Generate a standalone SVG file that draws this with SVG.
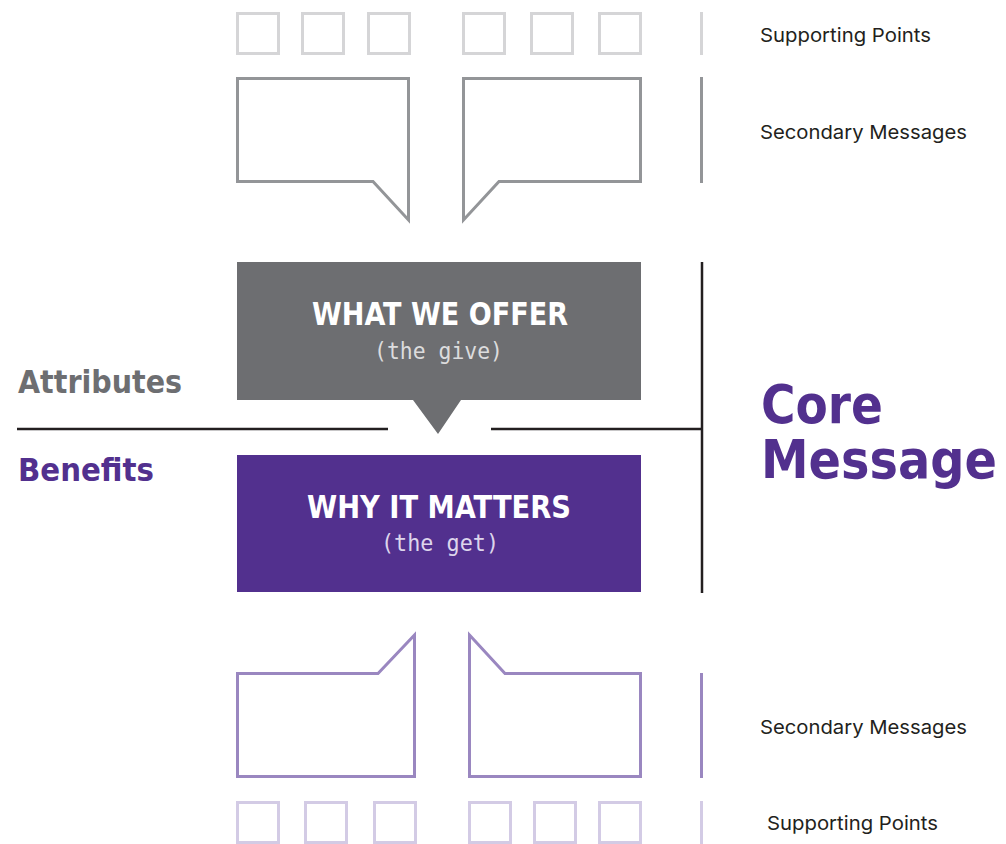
<svg xmlns="http://www.w3.org/2000/svg" width="1006" height="844" viewBox="0 0 1006 844">
  <style>
    .sq-top { fill: none; stroke: #d5d5d7; stroke-width: 3; }
    .sq-bot { fill: none; stroke: #d3cbe5; stroke-width: 3; }
    .bub-top { fill: none; stroke: #939598; stroke-width: 3; stroke-linejoin: miter; }
    .bub-bot { fill: none; stroke: #9a87c0; stroke-width: 3; stroke-linejoin: miter; }
    .rule { fill: none; stroke: #231f20; stroke-width: 2.5; }
    .head { font-family: "DejaVu Sans Condensed", "DejaVu Sans", sans-serif; font-weight: bold; font-size: 32px; fill: #ffffff; text-anchor: middle; }
    .sub { font-family: "DejaVu Sans Mono", "Liberation Mono", monospace; font-size: 23px; text-anchor: middle; }
    .side { font-family: "DejaVu Sans Condensed", "DejaVu Sans", sans-serif; font-weight: bold; font-size: 32px; }
    .core { font-family: "DejaVu Sans", sans-serif; font-weight: bold; font-size: 54px; fill: #52308e; }
    .label { font-family: Inter, "Liberation Sans", sans-serif; font-size: 19px; fill: #231f20; }
  </style>

  <!-- supporting points, top row -->
  <g id="supporting-top">
    <rect class="sq-top" x="237.5" y="13.5" width="41" height="40"/>
    <rect class="sq-top" x="302.5" y="13.5" width="41" height="40"/>
    <rect class="sq-top" x="368.5" y="13.5" width="41" height="40"/>
    <rect class="sq-top" x="463.5" y="13.5" width="41" height="40"/>
    <rect class="sq-top" x="531.5" y="13.5" width="41" height="40"/>
    <rect class="sq-top" x="599.5" y="13.5" width="41" height="40"/>
    <line x1="701.5" y1="12" x2="701.5" y2="55" stroke="#d5d5d7" stroke-width="3"/>
    <text class="label" x="760" y="42" textLength="171" lengthAdjust="spacingAndGlyphs">Supporting Points</text>
  </g>

  <!-- secondary messages, top -->
  <g id="secondary-top">
    <path class="bub-top" d="M237.5,78.5 H408.5 V220 L373,181.5 H237.5 Z"/>
    <path class="bub-top" d="M463.5,78.5 H640.5 V181.5 H499 L463.5,220 Z"/>
    <line x1="701.5" y1="77" x2="701.5" y2="183" stroke="#939598" stroke-width="3"/>
    <text class="label" x="760" y="139" textLength="207" lengthAdjust="spacingAndGlyphs">Secondary Messages</text>
  </g>

  <!-- core message: what we offer -->
  <g id="offer">
    <path d="M237,262 H641 V400 H461 L438,434 L413,400 H237 Z" fill="#6d6e71"/>
    <text class="head" x="440" y="325" textLength="256" lengthAdjust="spacingAndGlyphs">WHAT WE OFFER</text>
    <text class="sub" x="438.5" y="359" fill="#dcdcdd" textLength="129" lengthAdjust="spacingAndGlyphs">(the give)</text>
  </g>

  <!-- core message: why it matters -->
  <g id="matters">
    <rect x="237" y="455" width="404" height="137" fill="#52308e"/>
    <text class="head" x="439" y="518" textLength="264" lengthAdjust="spacingAndGlyphs">WHY IT MATTERS</text>
    <text class="sub" x="440" y="551" fill="#ddd5ec" textLength="118" lengthAdjust="spacingAndGlyphs">(the get)</text>
  </g>

  <!-- side labels -->
  <g id="attributes">
    <text class="side" x="18" y="393" fill="#6d6e71" textLength="164" lengthAdjust="spacingAndGlyphs">Attributes</text>
  </g>
  <g id="benefits">
    <text class="side" x="18" y="481" fill="#52308e" textLength="136" lengthAdjust="spacingAndGlyphs">Benefits</text>
  </g>
  <g id="core">
    <text class="core" x="761" y="423" textLength="122" lengthAdjust="spacingAndGlyphs">Core</text>
    <text class="core" x="761" y="478" textLength="236" lengthAdjust="spacingAndGlyphs">Message</text>
  </g>

  <!-- dividing rules -->
  <g id="connectors">
    <line class="rule" x1="17" y1="429" x2="388" y2="429"/>
    <line class="rule" x1="491" y1="429" x2="702" y2="429"/>
    <line class="rule" x1="702" y1="262" x2="702" y2="593"/>
  </g>

  <!-- secondary messages, bottom -->
  <g id="secondary-bottom">
    <path class="bub-bot" d="M237.5,673.5 H378 L414.5,635 V776.5 H237.5 Z"/>
    <path class="bub-bot" d="M469.5,635 L505,673.5 H640.5 V776.5 H469.5 Z"/>
    <line x1="701.5" y1="673" x2="701.5" y2="778" stroke="#9a87c0" stroke-width="3"/>
    <text class="label" x="760" y="734" textLength="207" lengthAdjust="spacingAndGlyphs">Secondary Messages</text>
  </g>

  <!-- supporting points, bottom row -->
  <g id="supporting-bottom">
    <rect class="sq-bot" x="237.5" y="802.5" width="41" height="40"/>
    <rect class="sq-bot" x="305.5" y="802.5" width="41" height="40"/>
    <rect class="sq-bot" x="374.5" y="802.5" width="41" height="40"/>
    <rect class="sq-bot" x="469.5" y="802.5" width="41" height="40"/>
    <rect class="sq-bot" x="534.5" y="802.5" width="41" height="40"/>
    <rect class="sq-bot" x="599.5" y="802.5" width="41" height="40"/>
    <line x1="701.5" y1="801" x2="701.5" y2="844" stroke="#d3cbe5" stroke-width="3"/>
    <text class="label" x="767" y="830" textLength="171" lengthAdjust="spacingAndGlyphs">Supporting Points</text>
  </g>
</svg>
